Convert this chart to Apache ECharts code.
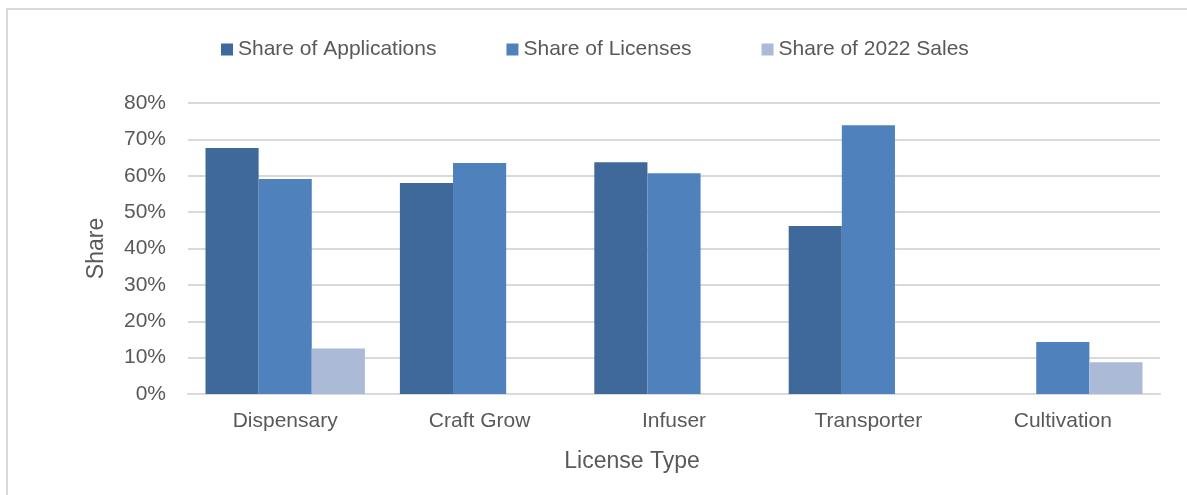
<!DOCTYPE html>
<html>
<head>
<meta charset="utf-8">
<style>
  html, body { margin: 0; padding: 0; background: #fff; }
  #chart { width: 1187px; height: 495px; }
</style>
<script src="https://cdn.jsdelivr.net/npm/echarts@6/dist/echarts.min.js"></script>
</head>
<body>
<div id="chart"></div>
<script>
// license types on the x axis
const categories = ['Dispensary', 'Craft Grow', 'Infuser', 'Transporter', 'Cultivation']
// shares in %, null = no bar
const applications = [67.6, 58.0, 63.7, 46.2, null]
const licenses = [59.1, 63.5, 60.7, 73.9, 14.3]
const sales2022 = [12.5, null, null, null, 8.7]
const seriesNames = ['Share of Applications', 'Share of Licenses', 'Share of 2022 Sales']

const textColor = '#595959'
const font = 'Liberation Sans, Arial, sans-serif'

const chart = echarts.init(document.getElementById('chart'))
const option = {
  animation: false,
  color: ['#40699b', '#4f81bd', '#aabad7'],
  textStyle: { fontFamily: font },
  graphic: [
    {
      // outer chart frame, open to the right and bottom like the original
      type: 'rect',
      shape: { x: 7, y: 9, width: 1300, height: 600 },
      style: { fill: 'none', stroke: '#d9d9d9', lineWidth: 2 },
      silent: true
    }
  ],
  legend: {
    left: 216,
    top: 34,
    itemWidth: 12,
    itemHeight: 12,
    itemGap: 70,
    icon: 'rect',
    textStyle: { color: textColor, fontSize: 21, fontFamily: font },
    data: seriesNames
  },
  grid: {
    left: 188,
    right: 27,
    top: 103,
    bottom: 101
  },
  xAxis: {
    type: 'category',
    data: categories,
    name: 'License Type',
    nameLocation: 'middle',
    nameGap: 56,
    nameTextStyle: { color: textColor, fontSize: 23, fontFamily: font, padding: [0, 84, 0, 0] },
    axisTick: { show: false },
    axisLine: { lineStyle: { color: '#d9d9d9', width: 2 } },
    axisLabel: { color: textColor, fontSize: 21, margin: 17, fontFamily: font }
  },
  yAxis: {
    type: 'value',
    min: 0,
    max: 80,
    interval: 10,
    name: 'Share',
    nameLocation: 'middle',
    nameGap: 80,
    nameTextStyle: { color: textColor, fontSize: 23, fontFamily: font },
    axisLine: { show: false },
    axisTick: { show: false },
    axisLabel: { color: textColor, fontSize: 21, margin: 22, fontFamily: font, formatter: '{value}%' },
    splitLine: { lineStyle: { color: '#d9d9d9', width: 2 } }
  },
  series: [
    { name: seriesNames[0], type: 'bar', data: applications, barGap: '0%', barCategoryGap: '18%' },
    { name: seriesNames[1], type: 'bar', data: licenses, barGap: '0%', barCategoryGap: '18%' },
    { name: seriesNames[2], type: 'bar', data: sales2022, barGap: '0%', barCategoryGap: '18%' }
  ]
}
chart.setOption(option)
</script>
</body>
</html>
